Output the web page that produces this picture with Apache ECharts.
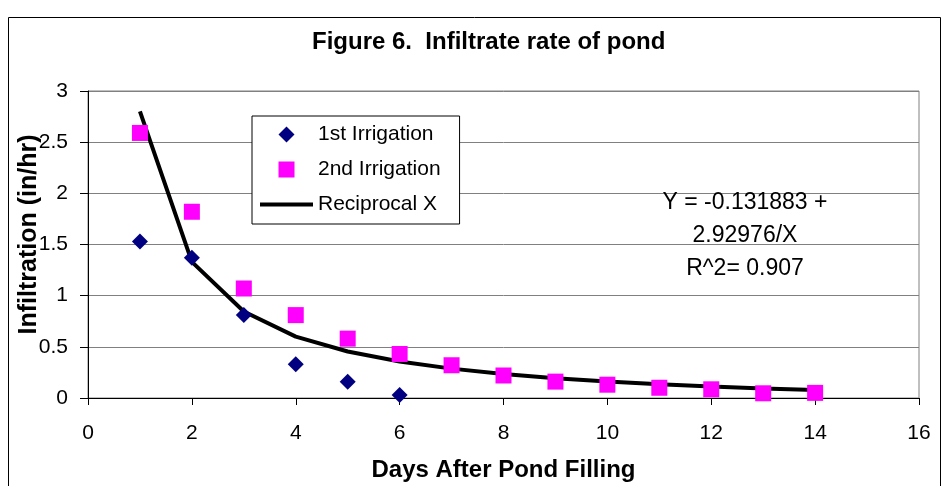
<!DOCTYPE html>
<html>
<head>
<meta charset="utf-8">
<script src="https://cdn.jsdelivr.net/npm/echarts@6/dist/echarts.min.js"></script>
<style>
html,body{margin:0;padding:0;background:#fff;}
#chart{width:950px;height:486px;}
</style>
</head>
<body>
<div id="chart"></div>
<script>
// ---- data ----
var titleText = 'Figure 6.  Infiltrate rate of pond';
var xAxisTitle = 'Days After Pond Filling';
var yAxisTitle = 'Infiltration (in/hr)';
var seriesNames = ['1st Irrigation', '2nd Irrigation', 'Reciprocal X'];

var days1 = [1, 2, 3, 4, 5, 6];
var irrigation1 = [1.53, 1.37, 0.81, 0.33, 0.16, 0.03];

var days2 = [1, 2, 3, 4, 5, 6, 7, 8, 9, 10, 11, 12, 13, 14];
var irrigation2 = [2.59, 1.82, 1.07, 0.81, 0.58, 0.43, 0.32, 0.22, 0.16, 0.13, 0.10, 0.085, 0.046, 0.05];

var daysFit = [1, 2, 3, 4, 5, 6, 7, 8, 9, 10, 11, 12, 13, 14];
var reciprocalFit = [2.80, 1.33, 0.845, 0.60, 0.454, 0.356, 0.287, 0.234, 0.194, 0.161, 0.134, 0.112, 0.093, 0.077];

var equationLines = ['Y = -0.131883 +', '2.92976/X', 'R^2= 0.907'];

function pairs(xs, ys) { return xs.map(function (x, i) { return [x, ys[i]]; }); }

var FONT = '"Liberation Sans", Arial, sans-serif';
var chart = echarts.init(document.getElementById('chart'), null, {renderer: 'canvas'});

chart.setOption({
  backgroundColor: '#ffffff',
  animation: false,
  title: {
    text: titleText,
    left: 312, top: 30, padding: 0,
    textStyle: {fontFamily: FONT, fontSize: 24, fontWeight: 'bold', color: '#000'}
  },
  grid: {
    left: 88, right: 31, top: 91, bottom: 88,
    containLabel: false, outerBoundsMode: 'none',
    show: true, borderColor: '#808080', borderWidth: 1, backgroundColor: 'transparent'
  },
  legend: {
    orient: 'vertical',
    left: 252, top: 116,
    padding: [8, 19, 9, 8],
    itemWidth: 53, itemHeight: 16, itemGap: 14,
    borderColor: '#000', borderWidth: 1, backgroundColor: '#fff',
    symbolKeepAspect: true,
    textStyle: {fontFamily: FONT, fontSize: 21, lineHeight: 20, color: '#000'},
    data: [
      {name: seriesNames[0], icon: 'path://M0,-1L1,0L0,1L-1,0Z'},
      {name: seriesNames[1], icon: 'path://M0,0L1,0L1,1L0,1Z'},
      {name: seriesNames[2], icon: 'path://M0,0L53,0L53,4L0,4Z'}
    ]
  },
  xAxis: {
    type: 'value', min: 0, max: 16, interval: 2,
    name: xAxisTitle, nameLocation: 'middle', nameGap: 60, nameMoveOverlap: false,
    nameTextStyle: {fontFamily: FONT, fontSize: 24, fontWeight: 'bold', color: '#000'},
    axisLine: {show: true, onZero: false, lineStyle: {color: '#000', width: 1}},
    axisTick: {show: true, inside: false, length: 7, lineStyle: {color: '#000'}},
    axisLabel: {margin: 25, fontFamily: FONT, fontSize: 21, color: '#000'},
    splitLine: {show: false}
  },
  yAxis: {
    type: 'value', min: 0, max: 3, interval: 0.5,
    name: yAxisTitle, nameLocation: 'middle', nameGap: 46, nameRotate: 90, nameMoveOverlap: false,
    nameTextStyle: {fontFamily: FONT, fontSize: 25, fontWeight: 'bold', color: '#000', padding: [0, 0, 0, 20]},
    axisLine: {show: true, onZero: false, lineStyle: {color: '#000', width: 1}},
    axisTick: {show: true, inside: false, length: 8, lineStyle: {color: '#000'}},
    axisLabel: {margin: 20, fontFamily: FONT, fontSize: 21, color: '#000'},
    splitLine: {show: true, lineStyle: {color: '#808080', width: 1}}
  },
  graphic: [
    {
      type: 'rect', silent: true, z: -10,
      shape: {x: 8.5, y: 17.5, width: 932, height: 500},
      style: {fill: 'none', stroke: '#000', lineWidth: 1}
    },
    {
      type: 'text', silent: true, z: 10,
      x: 745, y: 236,
      style: {
        text: equationLines.join('\n'),
        font: '23px ' + FONT, lineHeight: 33,
        fill: '#000', align: 'center', verticalAlign: 'middle'
      }
    }
  ],
  series: [
    {
      name: seriesNames[2], type: 'line',
      data: pairs(daysFit, reciprocalFit),
      symbol: 'none', smooth: false, z: 2,
      lineStyle: {color: '#000', width: 4},
      itemStyle: {color: '#000'}
    },
    {
      name: seriesNames[0], type: 'scatter',
      data: pairs(days1, irrigation1),
      symbol: 'diamond', symbolSize: [16, 16], z: 3,
      itemStyle: {color: '#000080', opacity: 1}
    },
    {
      name: seriesNames[1], type: 'scatter',
      data: pairs(days2, irrigation2),
      symbol: 'rect', symbolSize: [16, 16], z: 3,
      itemStyle: {color: '#ff00ff', opacity: 1}
    }
  ]
});
</script>
</body>
</html>
